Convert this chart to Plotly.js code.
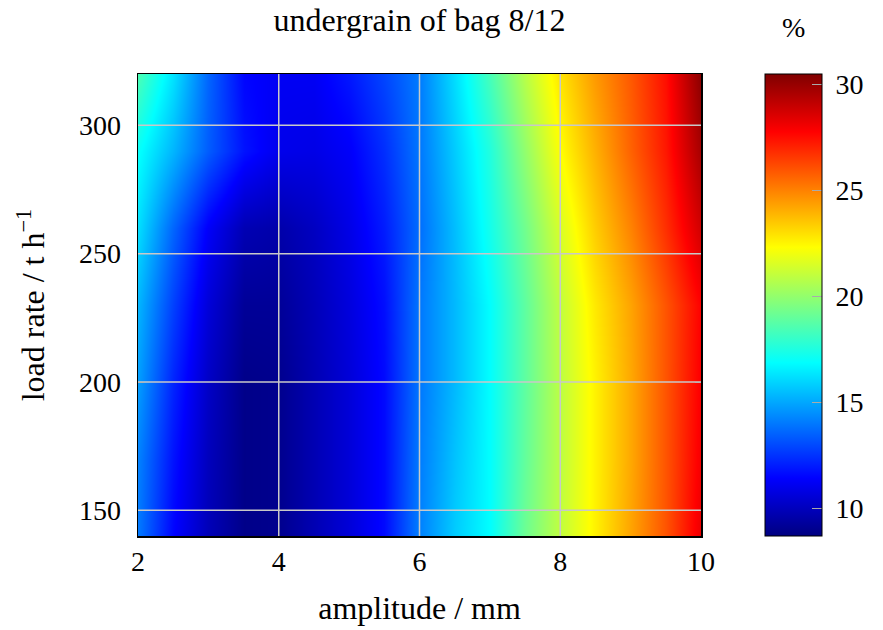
<!DOCTYPE html>
<html>
<head>
<meta charset="utf-8">
<script src="https://cdn.plot.ly/plotly-3.0.1.min.js"></script>
<style>html,body{margin:0;padding:0;background:#fff;}#chart{width:883px;height:630px;}</style>
</head>
<body>
<div id="chart"></div>
<script>
// amplitude / mm
const amplitude = [2, 2.5, 3, 3.5, 4, 4.5, 5, 5.5, 6, 6.5, 7, 7.5, 8, 8.5, 9, 9.5, 10];
// load rate / t h^-1
const loadRate = [140, 170, 200, 230, 260, 290, 320];
// undergrain (%) per load-rate row
const row140 = [14.0, 11.5, 9.9, 8.9, 9.0, 9.8, 10.6, 11.6, 14.2, 15.8, 16.9, 19.2, 21.0, 22.6, 24.3, 26.0, 28.2];
const row170 = [14.2, 11.8, 10.0, 8.9, 9.0, 9.8, 10.6, 11.6, 14.1, 15.6, 16.9, 19.0, 20.9, 22.6, 24.2, 26.0, 28.0];
const row200 = [14.8, 12.2, 10.2, 8.9, 9.0, 9.8, 10.6, 11.6, 14.0, 15.4, 16.9, 18.9, 20.9, 22.6, 24.2, 26.0, 27.9];
const row230 = [15.3, 12.8, 10.6, 9.2, 9.2, 9.9, 10.7, 11.7, 14.0, 15.4, 16.9, 18.9, 21.0, 22.8, 24.3, 26.0, 27.8];
const row260 = [16.2, 13.6, 11.3, 9.8, 9.6, 10.1, 10.9, 12.0, 13.8, 15.5, 17.3, 19.3, 21.5, 23.4, 25.0, 26.8, 28.8];
const row290 = [17.0, 15.3, 13.4, 11.8, 11.0, 10.9, 11.3, 12.4, 14.0, 15.8, 17.6, 20.0, 22.3, 24.0, 25.7, 27.3, 29.7];
const row320 = [18.5, 16.3, 13.6, 11.5, 11.2, 11.2, 11.9, 12.9, 14.1, 16.2, 18.4, 20.8, 22.9, 24.5, 25.9, 27.5, 30.3];

const xTicks = [2, 4, 6, 8, 10];
const yTicks = [150, 200, 250, 300];
const cbTicks = [10, 15, 20, 25, 30];
const zRange = [8.7, 30.5];

const z = [row140, row170, row200, row230, row260, row290, row320];

const jet = [
  [0, 'rgb(0,0,128)'],
  [0.125, 'rgb(0,0,255)'],
  [0.375, 'rgb(0,255,255)'],
  [0.625, 'rgb(255,255,0)'],
  [0.875, 'rgb(255,0,0)'],
  [1, 'rgb(128,0,0)']
];

const serif = 'Liberation Serif, Times New Roman, serif';

const trace = {
  type: 'heatmap',
  x: amplitude,
  y: loadRate,
  z: z,
  zsmooth: 'best',
  zmin: zRange[0],
  zmax: zRange[1],
  colorscale: jet,
  hoverinfo: 'skip',
  colorbar: {
    x: 627 / 563, xanchor: 'left', xpad: 0,
    y: 0.5, yanchor: 'middle', ypad: 0,
    len: 1, lenmode: 'fraction',
    thickness: 57, thicknessmode: 'pixels',
    outlinewidth: 1, outlinecolor: '#000',
    tickmode: 'array', tickvals: cbTicks, ticktext: cbTicks.map(v => '\u00a0' + v),
    ticks: 'inside', ticklen: 10, tickcolor: '#aaa', tickwidth: 1.5,
    tickfont: {family: serif, size: 28, color: '#000'},
    title: {text: ''}
  }
};

const gridColor = '#c8c8c8';
const shapes = [];
xTicks.slice(1, -1).forEach(v => shapes.push({
  type: 'line', xref: 'x', yref: 'paper', x0: v, x1: v, y0: 0, y1: 1,
  line: {color: gridColor, width: 1.5}, layer: 'above'
}));
yTicks.forEach(v => shapes.push({
  type: 'line', xref: 'paper', yref: 'y', x0: 0, x1: 1, y0: v, y1: v,
  line: {color: gridColor, width: 1.5}, layer: 'above'
}));

const layout = {
  width: 883, height: 630,
  margin: {l: 138, r: 182, t: 74, b: 94, autoexpand: false},
  paper_bgcolor: '#fff', plot_bgcolor: '#fff',
  font: {family: serif, size: 28, color: '#000'},
  title: {
    text: 'undergrain of bag 8/12',
    font: {family: serif, size: 32, color: '#000'},
    x: 0.5, xref: 'paper', xanchor: 'center',
    y: 1 - 20 / 630, yref: 'container', yanchor: 'middle'
  },
  annotations: [{
    text: '%', xref: 'paper', yref: 'paper',
    x: (793 - 138) / 563, y: 1 + (74 - 28) / 462,
    xanchor: 'center', yanchor: 'middle', showarrow: false,
    font: {family: serif, size: 28, color: '#000'}
  }],
  xaxis: {
    range: [2, 10], tickmode: 'array', tickvals: xTicks, ticktext: xTicks.map(String),
    showgrid: false, zeroline: false,
    showline: true, linecolor: '#000', linewidth: 1.5, mirror: 'ticks',
    ticks: 'inside', ticklen: 6, tickcolor: '#777', tickwidth: 1,
    tickfont: {family: serif, size: 28, color: '#000'},
    title: {text: 'amplitude / mm', font: {family: serif, size: 32, color: '#000'}, standoff: 20}
  },
  yaxis: {
    range: [140, 320], tickmode: 'array', tickvals: yTicks, ticktext: yTicks.map(String),
    showgrid: false, zeroline: false,
    showline: true, linecolor: '#000', linewidth: 1.5, mirror: 'ticks',
    ticks: 'inside', ticklen: 6, tickcolor: '#777', tickwidth: 1,
    ticklabelstandoff: 10,
    tickfont: {family: serif, size: 28, color: '#000'},
    title: {text: 'load rate / t h<sup>−1</sup>', font: {family: serif, size: 32, color: '#000'}, standoff: 24}
  },
  shapes: shapes
};

Plotly.newPlot('chart', [trace], layout, {staticPlot: true, displayModeBar: false});
</script>
</body>
</html>
